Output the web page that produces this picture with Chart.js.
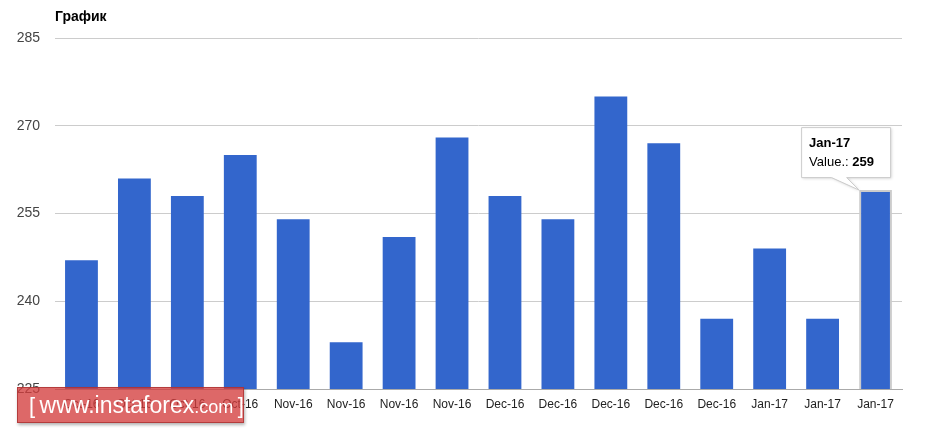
<!DOCTYPE html>
<html><head><meta charset="utf-8">
<script src="https://cdn.jsdelivr.net/npm/chart.js@4/dist/chart.umd.min.js"></script>
<style>
html,body{margin:0;padding:0;background:#fff;}
#wrap{position:relative;width:932px;height:437px;}
#wm{position:absolute;left:17px;top:387px;width:227px;height:36px;background:rgba(212,62,62,0.78);border:1px solid rgba(170,50,50,0.8);box-shadow:1px 2px 3px rgba(0,0,0,0.3);color:#fff;font-family:"Liberation Sans",Arial,sans-serif;white-space:nowrap;line-height:35px;box-sizing:border-box;padding-left:11px;}
#wm .b{font-size:22px;font-weight:300;}
#wm .m{font-size:23px;}
#wm .s{font-size:18px;}
</style></head>
<body><div id="wrap"><canvas id="c" width="932" height="437"></canvas>
<div id="wm"><span class="b">[</span> <span class="m">www.instaforex</span><span class="s">.com</span> <span class="b">]</span></div></div>
<script>
const title = "График";
const categories = ["Oct-16","Oct-16","Oct-16","Oct-16","Nov-16","Nov-16","Nov-16","Nov-16","Dec-16","Dec-16","Dec-16","Dec-16","Dec-16","Jan-17","Jan-17","Jan-17"];
const values = [247,261,258,265,254,233,251,268,258,254,275,267,237,249,237,259];
const yTicks = [225,240,255,270,285];
const highlightIndex = 15;
const valueLabel = "Value.: ";

const FONT = '"Liberation Sans", Arial, sans-serif';

const overlay = {
  id: 'overlay',
  afterDraw(chart) {
    const ctx = chart.ctx;
    ctx.save();
    ctx.fillStyle = '#000';
    ctx.font = 'bold 14px ' + FONT;
    ctx.textBaseline = 'alphabetic';
    ctx.textAlign = 'left';
    ctx.fillText(title, chart.chartArea.left, 21);
    // tooltip
    const bar = chart.getDatasetMeta(0).data[highlightIndex];
    const bx = bar.x - bar.width / 2, by = bar.y;
    const L = bx - 58, T = by - 63, W = 89, H = 50;
    ctx.shadowColor = 'rgba(0,0,0,0.18)';
    ctx.shadowBlur = 3; ctx.shadowOffsetX = 1; ctx.shadowOffsetY = 1;
    ctx.fillStyle = '#fff';
    ctx.strokeStyle = '#ccc';
    ctx.lineWidth = 1;
    ctx.beginPath();
    ctx.moveTo(L + 0.5, T + 0.5);
    ctx.lineTo(L + W + 0.5, T + 0.5);
    ctx.lineTo(L + W + 0.5, T + H + 0.5);
    ctx.lineTo(L + 45.5, T + H + 0.5);
    ctx.lineTo(bx, by);
    ctx.lineTo(L + 30.5, T + H + 0.5);
    ctx.lineTo(L + 0.5, T + H + 0.5);
    ctx.closePath();
    ctx.fill();
    ctx.shadowColor = 'transparent';
    ctx.stroke();
    ctx.fillStyle = '#000';
    ctx.font = 'bold 13px ' + FONT;
    ctx.fillText(categories[highlightIndex], L + 8, T + 20);
    ctx.font = '13px ' + FONT;
    ctx.fillText(valueLabel, L + 8, T + 39);
    const w = ctx.measureText(valueLabel).width;
    ctx.font = 'bold 13px ' + FONT;
    ctx.fillText(String(values[highlightIndex]), L + 8 + w, T + 39);
    ctx.restore();
  }
};

new Chart(document.getElementById('c'), {
  type: 'bar',
  data: {
    labels: categories,
    datasets: [{
      data: values,
      backgroundColor: '#3366cc',
      borderColor: values.map((v, i) => i === highlightIndex ? '#cccccc' : '#3366cc'),
      borderWidth: values.map((v, i) => i === highlightIndex ? 2 : 0),
      borderSkipped: 'bottom',
      barPercentage: 0.62,
      categoryPercentage: 1.0
    }]
  },
  options: {
    responsive: false,
    animation: false,
    events: [],
    layout: { padding: { top: 38, right: 30, bottom: 0, left: 0 } },
    plugins: { legend: { display: false }, tooltip: { enabled: false } },
    scales: {
      x: {
        grid: { display: false, drawTicks: false },
        border: { display: true, color: '#aaa' },
        ticks: { color: '#222', font: { family: FONT, size: 12 }, padding: 8, maxRotation: 0, autoSkip: false },
        afterFit: s => { s.height = 48; }
      },
      y: {
        min: 225, max: 285,
        afterBuildTicks: s => { s.ticks = yTicks.map(v => ({ value: v })); },
        grid: { color: '#ccc', drawTicks: false },
        border: { display: false },
        ticks: { color: '#444', font: { family: FONT, size: 14 }, padding: 15 },
        afterFit: s => { s.width = 55; }
      }
    }
  },
  plugins: [overlay]
});
</script>
</body></html>
